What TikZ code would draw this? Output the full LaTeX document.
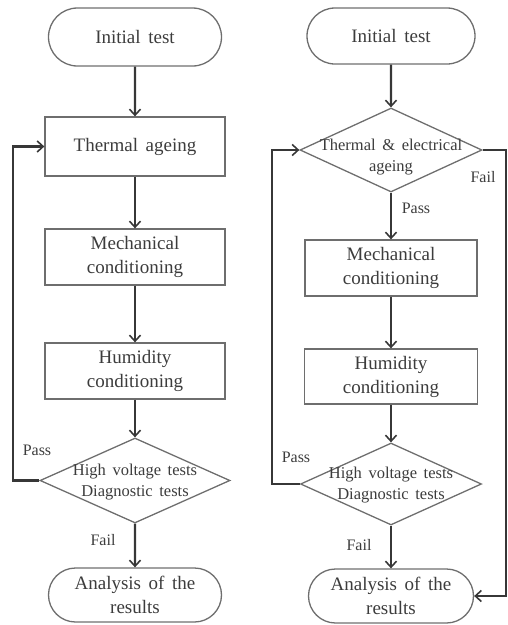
\documentclass[tikz,border=0pt]{standalone}
\usepackage{fontspec}
\setmainfont[WordSpace={1.6}]{Liberation Serif}
\usetikzlibrary{shapes.geometric,shapes.misc,arrows.meta}
\definecolor{linec}{RGB}{55,55,55}
\definecolor{boxc}{RGB}{110,110,110}
\definecolor{txtc}{RGB}{60,60,60}
\begin{document}
\begin{tikzpicture}[x=1pt,y=-1pt,
 every node/.style={text=txtc},
 box/.style={draw=boxc,line width=1.3pt,rectangle,align=center,inner sep=0pt,font=\fontsize{19}{24}\selectfont},
 term/.style={draw=boxc,line width=1.3pt,rounded rectangle,align=center,inner sep=0pt,font=\fontsize{19}{24}\selectfont},
 dec/.style={draw=boxc,line width=1.3pt,diamond,inner sep=0pt},
 dtext/.style={font=\fontsize{16.5}{21}\selectfont,align=center,text=txtc},
 lab/.style={font=\fontsize{16}{19}\selectfont},
 arr/.style={draw=linec,line width=2.1pt,-{Straight Barb[length=6pt,width=11pt,line width=1.6pt]}}
]
\useasboundingbox (0,0) rectangle (508,625);
% left column
\node[term,minimum width=173pt,minimum height=58pt] (i1) at (135,37) {Initial test};
\node[box,minimum width=180pt,minimum height=59pt] (t1) at (135,146.5) {Thermal ageing};
\node[box,minimum width=180pt,minimum height=56pt] (m1) at (135,257) {Mechanical\\conditioning};
\node[box,minimum width=180pt,minimum height=56pt] (h1) at (135,371) {Humidity\\conditioning};
\node[dec,minimum width=190pt,minimum height=85pt,label={[dtext,yshift=-2pt]center:High voltage tests\\Diagnostic tests}] (d1) at (135,480.5) {};
\node[term,minimum width=173pt,minimum height=54pt] (a1) at (135,595) {Analysis of the\\results};
\coordinate (lx) at (13,0);
\draw[arr] (i1) -- (t1);
\draw[arr] (t1) -- (m1);
\draw[arr] (m1) -- (h1);
\draw[arr] (h1) -- (d1);
\draw[arr] (d1) -- (a1);
\draw[arr] (d1.west) -- (d1.west -| lx) |- (t1.west);
\node[lab] (p1) at (37,450) {Pass};
\node[lab] (f1) at (103,540) {Fail};
% right column
\node[term,minimum width=168pt,minimum height=56pt] (i2) at (391,36) {Initial test};
\node[dec,minimum width=182pt,minimum height=84pt,label={[dtext,yshift=-7pt]center:Thermal \& electrical\\ageing}] (d2) at (391,150) {};
\node[box,minimum width=172pt,minimum height=56pt] (m2) at (391,268) {Mechanical\\conditioning};
\node[box,minimum width=173pt,minimum height=55pt] (h2) at (391,376.5) {Humidity\\conditioning};
\node[dec,minimum width=181pt,minimum height=82pt,label={[dtext,yshift=-1pt]center:High voltage tests\\Diagnostic tests}] (d3) at (391,484) {};
\node[term,minimum width=165pt,minimum height=54pt] (a2) at (391,596) {Analysis of the\\results};
\coordinate (rx) at (272,0);
\coordinate (fx) at (506,0);
\draw[arr] (i2) -- (d2);
\draw[arr] (d2) -- (m2);
\draw[arr] (m2) -- (h2);
\draw[arr] (h2) -- (d3);
\draw[arr] (d3) -- (a2);
\draw[arr] (d3.west) -- (d3.west -| rx) |- (d2.west);
\draw[arr] (d2.east) -- (d2.east -| fx) |- (a2.east);
\node[lab] (p2) at (416,208) {Pass};
\node[lab] (f2) at (483,177) {Fail};
\node[lab] (p3) at (296,457) {Pass};
\node[lab] (f3) at (359,545) {Fail};
\end{tikzpicture}
\end{document}
